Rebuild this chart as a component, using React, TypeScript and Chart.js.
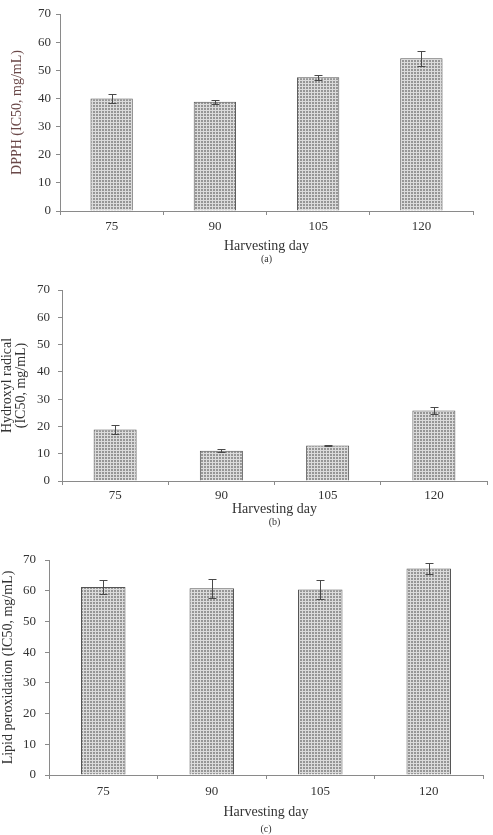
import React, { useEffect, useRef } from "react";
import { Chart, registerables } from "chart.js";

Chart.register(...registerables);

// Harvesting days on the x axis
const harvestDays = ["75", "90", "105", "120"];

// DPPH radical scavenging, IC50 (mg/mL), mean and error
const dpphValues = [40.0, 38.8, 47.5, 54.3];
const dpphErrors = [1.7, 0.7, 0.8, 2.7];

// Hydroxyl radical scavenging, IC50 (mg/mL)
const hydroxylValues = [18.9, 11.1, 13.0, 25.8];
const hydroxylErrors = [1.5, 0.5, 0.3, 1.3];

// Lipid peroxidation inhibition, IC50 (mg/mL)
const lipidValues = [61.2, 60.8, 60.4, 67.2];
const lipidErrors = [2.3, 3.1, 3.1, 1.9];

// Value axis range shared by all three panels
const yMin = 0;
const yMax = 70;
const yStep = 10;

const SERIF = "'Liberation Serif', 'Times New Roman', serif";
const TEXT = "#333333";
const AXIS = "#8a8a8a";

type PanelSpec = {
  top: number;
  height: number;
  values: number[];
  errors: number[];
  yTitle: string | string[];
  yTitleColor: string;
  yTitleSize: number;
  yTitlePad: number;
  yTickPad: number;
  xTickPad: number;
  caption: string;
  axisWidth: number;
  xAxisHeight: number;
  xTitlePad: number;
  padTop: number;
  padRight: number;
  padBottom: number;
  barPct: number;
};

const panels: PanelSpec[] = [
  {
    top: 0,
    height: 265,
    values: dpphValues,
    errors: dpphErrors,
    yTitle: "DPPH (IC50, mg/mL)",
    yTitleColor: "#6a4848",
    yTitleSize: 14,
    yTitlePad: 10,
    yTickPad: 5,
    xTickPad: 4,
    caption: "(a)",
    axisWidth: 60,
    xAxisHeight: 42,
    xTitlePad: 0,
    padTop: 14,
    padRight: 20,
    padBottom: 0,
    barPct: 0.41,
  },
  {
    top: 265,
    height: 265,
    values: hydroxylValues,
    errors: hydroxylErrors,
    yTitle: ["Hydroxyl radical", "(IC50, mg/mL)"],
    yTitleColor: TEXT,
    yTitleSize: 14,
    yTitlePad: 0,
    yTickPad: 8,
    xTickPad: 3,
    caption: "(b)",
    axisWidth: 62,
    xAxisHeight: 35,
    xTitlePad: 0,
    padTop: 25,
    padRight: 6,
    padBottom: 2,
    barPct: 0.405,
  },
  {
    top: 530,
    height: 305,
    values: lipidValues,
    errors: lipidErrors,
    yTitle: "Lipid peroxidation (IC50, mg/mL)",
    yTitleColor: TEXT,
    yTitleSize: 14,
    yTitlePad: 1,
    yTickPad: 9,
    xTickPad: 5,
    caption: "(c)",
    axisWidth: 49,
    xAxisHeight: 48,
    xTitlePad: 4,
    padTop: 30,
    padRight: 10,
    padBottom: 0,
    barPct: 0.41,
  },
];

// Stippled grey fill used for every bar
function makeDotPattern(): CanvasPattern | string {
  const tile = document.createElement("canvas");
  tile.width = 3;
  tile.height = 3;
  const c = tile.getContext("2d");
  if (!c) return "#bdbdbd";
  c.fillStyle = "#dcdcdc";
  c.fillRect(0, 0, 3, 3);
  c.fillStyle = "#969696";
  c.fillRect(0, 0, 2, 2);
  return c.createPattern(tile, "repeat") || "#bdbdbd";
}

// Draws symmetric error bars with caps on top of each bar
const errorBarPlugin = {
  id: "errorBars",
  afterDatasetsDraw(chart: any, _args: any, opts: any) {
    const errors: number[] = opts.errors || [];
    const meta = chart.getDatasetMeta(0);
    const yScale = chart.scales.y;
    const values: number[] = chart.data.datasets[0].data as number[];
    const ctx = chart.ctx;
    ctx.save();
    ctx.strokeStyle = opts.color || "#555";
    ctx.lineWidth = 1;
    meta.data.forEach((bar: any, i: number) => {
      const err = errors[i];
      if (err == null) return;
      const x = Math.round(bar.x) + 0.5;
      const yHi = Math.round(yScale.getPixelForValue(values[i] + err)) + 0.5;
      const yLo = Math.round(yScale.getPixelForValue(values[i] - err)) + 0.5;
      const cap = 4;
      ctx.beginPath();
      ctx.moveTo(x, yHi);
      ctx.lineTo(x, yLo);
      ctx.moveTo(x - cap, yHi);
      ctx.lineTo(x + cap, yHi);
      ctx.moveTo(x - cap, yLo);
      ctx.lineTo(x + cap, yLo);
      ctx.stroke();
    });
    ctx.restore();
  },
};

function Panel({ spec }: { spec: PanelSpec }) {
  const ref = useRef<HTMLCanvasElement>(null);

  useEffect(() => {
    if (!ref.current) return;
    const pattern = makeDotPattern();
    const chart = new Chart(ref.current, {
      type: "bar",
      data: {
        labels: harvestDays,
        datasets: [
          {
            data: spec.values,
            backgroundColor: pattern as any,
            borderColor: "#555555",
            borderWidth: 1,
            barPercentage: spec.barPct,
            categoryPercentage: 1,
          },
        ],
      },
      options: {
        responsive: false,
        animation: false,
        devicePixelRatio: 1,
        layout: {
          padding: { top: spec.padTop, right: spec.padRight, bottom: spec.padBottom, left: 0 },
        },
        plugins: {
          legend: { display: false },
          tooltip: { enabled: false },
          subtitle: {
            display: true,
            text: spec.caption,
            position: "bottom",
            fullSize: false,
            padding: 0,
            color: TEXT,
            font: { family: SERIF, size: 10, lineHeight: 1.2, weight: "normal" },
          },
          errorBars: { errors: spec.errors, color: "#4a4a4a" },
        } as any,
        scales: {
          x: {
            grid: {
              offset: true,
              drawOnChartArea: false,
              drawTicks: true,
              tickLength: 4,
              color: AXIS,
            },
            border: { color: AXIS, width: 1 },
            ticks: { padding: spec.xTickPad, color: TEXT, font: { family: SERIF, size: 13 } },
            title: {
              display: true,
              text: "Harvesting day",
              color: TEXT,
              font: { family: SERIF, size: 14, lineHeight: 1 },
              padding: { top: 0, bottom: spec.xTitlePad },
            },
            afterFit: (s: any) => {
              s.height = spec.xAxisHeight;
            },
          },
          y: {
            min: yMin,
            max: yMax,
            ticks: {
              stepSize: yStep,
              padding: spec.yTickPad,
              color: TEXT,
              font: { family: SERIF, size: 13 },
            },
            grid: { drawOnChartArea: false, drawTicks: true, tickLength: 4, color: AXIS },
            border: { color: AXIS, width: 1 },
            title: {
              display: true,
              text: spec.yTitle,
              color: spec.yTitleColor,
              font: { family: SERIF, size: spec.yTitleSize, lineHeight: 1 },
              padding: { top: spec.yTitlePad, bottom: 0 },
            },
            afterFit: (s: any) => {
              s.width = spec.axisWidth;
            },
          },
        },
      },
      plugins: [errorBarPlugin],
    });
    return () => chart.destroy();
  }, [spec]);

  return (
    <canvas
      ref={ref}
      width={493}
      height={spec.height}
      style={{
        position: "absolute",
        left: 0,
        top: spec.top,
        width: 493,
        height: spec.height,
        display: "block",
      }}
    />
  );
}

export default function App() {
  return (
    <div
      style={{
        position: "absolute",
        left: 0,
        top: 0,
        width: 493,
        height: 835,
        background: "#ffffff",
      }}
    >
      {panels.map((p, i) => (
        <Panel key={i} spec={p} />
      ))}
    </div>
  );
}
